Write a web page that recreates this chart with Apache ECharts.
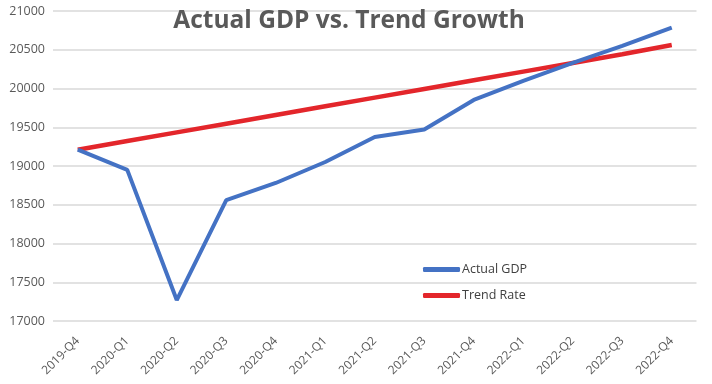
<!DOCTYPE html>
<html><head><meta charset="utf-8">
<script src="https://cdn.jsdelivr.net/npm/echarts@6/dist/echarts.min.js"></script>
<style>html,body{margin:0;padding:0;background:#fff}#c{width:712px;height:384px}</style>
</head><body><div id="c"></div>
<script>
const categories = ['2019-Q4','2020-Q1','2020-Q2','2020-Q3','2020-Q4','2021-Q1','2021-Q2','2021-Q3','2021-Q4','2022-Q1','2022-Q2','2022-Q3','2022-Q4'];
const actualGDP = [19210, 18950, 17270, 18561, 18781, 19052, 19374, 19470, 19852, 20097, 20330, 20550, 20785];
const trendRate = [19210, 19322, 19434, 19546, 19658, 19770, 19882, 19994, 20106, 20218, 20330, 20442, 20562];
const yTicks = [17000, 21000, 500];

const chart = echarts.init(document.getElementById('c'));
chart.setOption({
  animation: false,
  title: {
    text: 'Actual GDP vs. Trend Growth',
    left: 344, top: 4, textAlign: 'center',
    textStyle: { fontFamily: 'Open Sans', fontWeight: 'bold', fontSize: 24.5, color: '#595959' }
  },
  legend: {
    orient: 'vertical', left: 418, top: 258, itemGap: 13,
    itemWidth: 37, itemHeight: 5,
    icon: 'roundRect',
    textStyle: { fontFamily: 'Open Sans', fontSize: 12.5, color: '#404040', padding: [0,0,0,-3] },
    data: ['Actual GDP', 'Trend Rate']
  },
  grid: { left: 53, right: 15.5, top: 11, bottom: 63, containLabel: false },
  xAxis: {
    type: 'category', data: categories, boundaryGap: true,
    axisLine: { show: false }, axisTick: { show: false },
    axisLabel: { rotate: 45, fontFamily: 'Open Sans', fontSize: 12, color: '#595959', margin: 18 }
  },
  yAxis: {
    type: 'value', min: yTicks[0], max: yTicks[1], interval: yTicks[2],
    axisLine: { show: false }, axisTick: { show: false },
    axisLabel: { fontFamily: 'Open Sans', fontSize: 12.5, color: '#595959', margin: 8,
      formatter: function (v) { return String(v); } },
    splitLine: { lineStyle: { color: '#d9d9d9', width: 1.5 } }
  },
  series: [
    { name: 'Actual GDP', type: 'line', data: actualGDP, symbol: 'none', z: 3,
      lineStyle: { color: '#4472C4', width: 4 }, itemStyle: { color: '#4472C4' } },
    { name: 'Trend Rate', type: 'line', data: trendRate, symbol: 'none', z: 2,
      lineStyle: { color: '#E3262B', width: 4.5 }, itemStyle: { color: '#E3262B' } }
  ]
});
</script></body></html>
